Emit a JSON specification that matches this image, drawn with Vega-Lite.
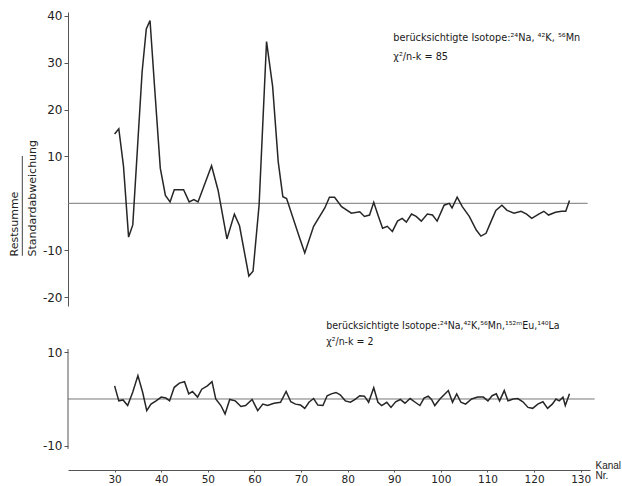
{
  "$schema": "https://vega.github.io/schema/vega-lite/v6.json",
  "background": "white",
  "padding": {"left": 8, "top": 9, "right": 0, "bottom": 0},
  "config": {
    "view": {"stroke": null},
    "axis": {"grid": false, "labelFont": "DejaVu Sans", "labelFontSize": 12, "labelColor": "#222", "domainColor": "#555", "tickColor": "#555", "titleFont": "DejaVu Sans", "titleColor": "#222", "titleFontWeight": "normal"},
    "text": {"font": "DejaVu Sans Condensed, DejaVu Sans", "color": "#1a1a1a"}
  },
  "datasets": {
    "upper": [
      {"ch": 30.0, "v": 14.8}, {"ch": 30.9, "v": 15.9}, {"ch": 31.9, "v": 8.0}, {"ch": 33.0, "v": -7.2}, {"ch": 33.9, "v": -4.6},
      {"ch": 34.9, "v": 11.7}, {"ch": 35.9, "v": 28.0}, {"ch": 36.8, "v": 37.2}, {"ch": 37.6, "v": 39.0}, {"ch": 38.6, "v": 24.5},
      {"ch": 39.8, "v": 7.5}, {"ch": 40.9, "v": 1.7}, {"ch": 41.9, "v": 0.3}, {"ch": 42.8, "v": 2.9}, {"ch": 44.8, "v": 2.9},
      {"ch": 46.0, "v": 0.3}, {"ch": 47.0, "v": 0.8}, {"ch": 47.9, "v": 0.3}, {"ch": 50.8, "v": 8.0}, {"ch": 52.2, "v": 2.8},
      {"ch": 54.1, "v": -7.6}, {"ch": 55.7, "v": -2.3}, {"ch": 56.8, "v": -4.8}, {"ch": 58.8, "v": -15.5}, {"ch": 59.7, "v": -14.5},
      {"ch": 61.0, "v": -0.4}, {"ch": 62.6, "v": 34.5}, {"ch": 63.9, "v": 25.0}, {"ch": 65.1, "v": 8.9}, {"ch": 66.1, "v": 1.4},
      {"ch": 66.9, "v": 1.0}, {"ch": 69.7, "v": -7.4}, {"ch": 70.8, "v": -10.6}, {"ch": 72.7, "v": -4.9}, {"ch": 75.1, "v": -1.0},
      {"ch": 76.1, "v": 1.3}, {"ch": 77.2, "v": 1.3}, {"ch": 78.7, "v": -0.7}, {"ch": 80.8, "v": -2.1}, {"ch": 82.6, "v": -1.8},
      {"ch": 83.6, "v": -2.8}, {"ch": 84.7, "v": -2.5}, {"ch": 85.6, "v": 0.2}, {"ch": 86.5, "v": -2.5}, {"ch": 87.5, "v": -5.3},
      {"ch": 88.5, "v": -4.9}, {"ch": 89.6, "v": -6.0}, {"ch": 90.7, "v": -3.8}, {"ch": 91.7, "v": -3.2}, {"ch": 92.6, "v": -4.0},
      {"ch": 93.7, "v": -2.3}, {"ch": 94.7, "v": -2.8}, {"ch": 95.8, "v": -3.8}, {"ch": 97.1, "v": -2.3}, {"ch": 98.2, "v": -2.5},
      {"ch": 99.2, "v": -3.8}, {"ch": 100.7, "v": -0.4}, {"ch": 101.8, "v": 0.0}, {"ch": 102.4, "v": -1.0}, {"ch": 103.5, "v": 1.3},
      {"ch": 104.6, "v": -0.7}, {"ch": 106.1, "v": -2.8}, {"ch": 107.6, "v": -5.7}, {"ch": 108.6, "v": -7.0}, {"ch": 109.7, "v": -6.4},
      {"ch": 110.8, "v": -3.8}, {"ch": 111.8, "v": -1.5}, {"ch": 113.1, "v": -0.4}, {"ch": 114.2, "v": -1.5}, {"ch": 115.7, "v": -2.1},
      {"ch": 117.2, "v": -1.7}, {"ch": 118.4, "v": -2.3}, {"ch": 119.5, "v": -3.2}, {"ch": 121.0, "v": -2.3}, {"ch": 122.1, "v": -1.7},
      {"ch": 123.1, "v": -2.5}, {"ch": 124.6, "v": -1.9}, {"ch": 125.9, "v": -1.7}, {"ch": 126.8, "v": -1.7}, {"ch": 127.6, "v": 0.6}
    ],
    "lower": [
      {"ch": 30.0, "v": 2.8}, {"ch": 30.9, "v": -0.4}, {"ch": 31.8, "v": -0.2}, {"ch": 32.8, "v": -1.4}, {"ch": 33.9, "v": 1.5},
      {"ch": 35.0, "v": 5.0}, {"ch": 36.0, "v": 1.5}, {"ch": 36.9, "v": -2.5}, {"ch": 37.8, "v": -1.1}, {"ch": 38.9, "v": -0.4},
      {"ch": 40.0, "v": 0.4}, {"ch": 41.0, "v": 0.2}, {"ch": 41.8, "v": -0.4}, {"ch": 42.8, "v": 2.5}, {"ch": 43.9, "v": 3.4},
      {"ch": 45.0, "v": 3.7}, {"ch": 45.9, "v": 1.1}, {"ch": 46.7, "v": 1.6}, {"ch": 47.8, "v": 0.4}, {"ch": 48.7, "v": 2.1},
      {"ch": 49.9, "v": 2.8}, {"ch": 50.9, "v": 3.7}, {"ch": 51.7, "v": 0.0}, {"ch": 52.8, "v": -1.4}, {"ch": 53.7, "v": -3.2},
      {"ch": 54.7, "v": -0.1}, {"ch": 55.9, "v": -0.4}, {"ch": 57.1, "v": -1.6}, {"ch": 58.1, "v": -1.4}, {"ch": 59.5, "v": -0.1},
      {"ch": 60.7, "v": -2.5}, {"ch": 61.8, "v": -1.1}, {"ch": 62.8, "v": -1.4}, {"ch": 64.2, "v": -0.9}, {"ch": 65.6, "v": -0.7},
      {"ch": 66.8, "v": 1.6}, {"ch": 67.8, "v": -0.6}, {"ch": 68.8, "v": -1.1}, {"ch": 69.9, "v": -1.3}, {"ch": 70.8, "v": -2.0},
      {"ch": 71.7, "v": -0.7}, {"ch": 72.7, "v": 0.1}, {"ch": 73.6, "v": -1.3}, {"ch": 74.7, "v": -1.4}, {"ch": 75.6, "v": 0.7},
      {"ch": 76.5, "v": 1.1}, {"ch": 77.5, "v": 1.4}, {"ch": 78.4, "v": 0.9}, {"ch": 79.5, "v": -0.4}, {"ch": 80.6, "v": -0.7},
      {"ch": 81.6, "v": -0.1}, {"ch": 82.6, "v": 0.7}, {"ch": 83.6, "v": 0.6}, {"ch": 84.5, "v": -0.7}, {"ch": 85.6, "v": 2.4},
      {"ch": 86.5, "v": -0.7}, {"ch": 87.3, "v": -1.4}, {"ch": 88.4, "v": -0.7}, {"ch": 89.3, "v": -1.8}, {"ch": 90.3, "v": -0.6},
      {"ch": 91.3, "v": -0.1}, {"ch": 92.3, "v": -0.9}, {"ch": 93.4, "v": 0.1}, {"ch": 94.5, "v": -0.7}, {"ch": 95.5, "v": -1.4},
      {"ch": 96.4, "v": 0.2}, {"ch": 97.3, "v": 0.6}, {"ch": 98.0, "v": -0.1}, {"ch": 98.7, "v": -1.4}, {"ch": 99.8, "v": 0.0},
      {"ch": 100.7, "v": 0.9}, {"ch": 101.6, "v": 1.8}, {"ch": 102.5, "v": -0.7}, {"ch": 103.4, "v": 1.1}, {"ch": 104.3, "v": -0.7},
      {"ch": 105.3, "v": -1.1}, {"ch": 106.6, "v": 0.0}, {"ch": 107.9, "v": 0.4}, {"ch": 109.1, "v": 0.4}, {"ch": 110.1, "v": -0.4},
      {"ch": 111.0, "v": 0.7}, {"ch": 111.9, "v": 1.1}, {"ch": 112.6, "v": -0.4}, {"ch": 113.6, "v": 1.8}, {"ch": 114.4, "v": -0.4},
      {"ch": 115.5, "v": 0.0}, {"ch": 116.5, "v": 0.1}, {"ch": 117.6, "v": -0.6}, {"ch": 118.7, "v": -1.8}, {"ch": 119.7, "v": -2.0},
      {"ch": 120.8, "v": -1.1}, {"ch": 121.9, "v": -0.6}, {"ch": 122.9, "v": -2.0}, {"ch": 123.9, "v": -1.1}, {"ch": 124.7, "v": 0.0},
      {"ch": 125.4, "v": -0.4}, {"ch": 126.2, "v": 0.4}, {"ch": 126.7, "v": -1.4}, {"ch": 127.6, "v": 1.1}
    ],
    "notes": [
      {"panel": "upper", "ch": 89.8, "v": 35.3, "label": "berücksichtigte  Isotope:²⁴Na, ⁴²K, ⁵⁶Mn"},
      {"panel": "upper", "ch": 89.8, "v": 31.3, "label": "χ²/n-k = 85"},
      {"panel": "lower", "ch": 75.4, "v": 15.6, "label": "berücksichtigte  Isotope:²⁴Na,⁴²K,⁵⁶Mn,¹⁵²ᵐEu,¹⁴⁰La"},
      {"panel": "lower", "ch": 75.4, "v": 12.2, "label": "χ²/n-k = 2"}
    ]
  },
  "spacing": 43,
  "bounds": "flush",
  "vconcat": [
    {
      "width": 522,
      "height": 294,
      "layer": [
        {
          "data": {"values": [{}]},
          "mark": {"type": "rule", "color": "#777", "strokeWidth": 1},
          "encoding": {
            "x": {"datum": 20, "type": "quantitative", "scale": {"domain": [20, 132], "nice": false}, "axis": null},
            "x2": {"datum": 131.5},
            "y": {"datum": 0, "type": "quantitative", "scale": {"domain": [-21.9, 40.8], "nice": false}}
          }
        },
        {
          "data": {"values": [{}]},
          "mark": {"type": "rule", "color": "#444", "strokeWidth": 1},
          "encoding": {
            "x": {"datum": 10.2, "type": "quantitative"},
            "y": {"datum": 10.1, "type": "quantitative"},
            "y2": {"datum": -11.2}
          }
        },
        {
          "data": {"name": "upper"},
          "mark": {"type": "line", "color": "#262626", "strokeWidth": 1.5},
          "encoding": {
            "x": {"field": "ch", "type": "quantitative"},
            "y": {
              "field": "v", "type": "quantitative",
              "axis": {
                "values": [-20, -10, 10, 20, 30, 40],
                "labelExpr": "datum.value + ''",
                "title": ["Restsumme", "Standardabweichung"],
                "titleAngle": -90, "titleAlign": "left", "titleBaseline": "top",
                "titleX": -60, "titleY": 244, "titleFontSize": 11, "titleLineHeight": 18,
                "tickSize": 4, "labelPadding": 2
              }
            }
          }
        },
        {
          "data": {"name": "notes"},
          "transform": [{"filter": "datum.panel == 'upper'"}],
          "mark": {"type": "text", "align": "left", "baseline": "middle", "fontSize": 10.8},
          "encoding": {
            "x": {"field": "ch", "type": "quantitative"},
            "y": {"field": "v", "type": "quantitative"},
            "text": {"field": "label"}
          }
        }
      ]
    },
    {
      "width": 522,
      "height": 121,
      "layer": [
        {
          "data": {"values": [{}]},
          "mark": {"type": "rule", "color": "#777", "strokeWidth": 1},
          "encoding": {
            "x": {
              "datum": 20, "type": "quantitative", "scale": {"domain": [20, 132], "nice": false},
              "axis": {
                "values": [30, 40, 50, 60, 70, 80, 90, 100, 110, 120, 130],
                "title": ["Kanal", "Nr."], "titleX": 527, "titleY": -10,
                "titleFont": "Liberation Sans",
                "titleAlign": "left", "titleBaseline": "top", "titleFontSize": 10, "titleLineHeight": 10,
                "tickSize": 2, "labelPadding": 2, "labelFontSize": 10.5
              }
            },
            "x2": {"datum": 133},
            "y": {"datum": 0, "type": "quantitative", "scale": {"domain": [-15.2, 10.7], "nice": false},
              "axis": {"values": [-10, 10], "labelExpr": "datum.value + ''", "domain": false, "title": null, "tickSize": 4, "labelPadding": 2}}
          }
        },
        {
          "data": {"values": [{}]},
          "mark": {"type": "rule", "color": "#555", "strokeWidth": 1},
          "encoding": {
            "x": {"datum": 20, "type": "quantitative"},
            "y": {"datum": 10.7, "type": "quantitative"},
            "y2": {"datum": -10.7}
          }
        },
        {
          "data": {"name": "lower"},
          "mark": {"type": "line", "color": "#262626", "strokeWidth": 1.5},
          "encoding": {
            "x": {"field": "ch", "type": "quantitative"},
            "y": {"field": "v", "type": "quantitative"}
          }
        },
        {
          "data": {"name": "notes"},
          "transform": [{"filter": "datum.panel == 'lower'"}],
          "mark": {"type": "text", "align": "left", "baseline": "middle", "fontSize": 10.5},
          "encoding": {
            "x": {"field": "ch", "type": "quantitative"},
            "y": {"field": "v", "type": "quantitative"},
            "text": {"field": "label"}
          }
        }
      ]
    }
  ]
}
